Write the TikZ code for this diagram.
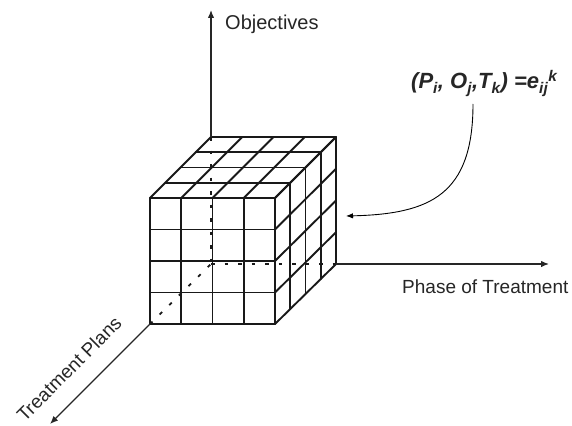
\documentclass[tikz,border=0pt]{standalone}
\usepackage{fontspec}
\setmainfont{Liberation Sans}
\usetikzlibrary{arrows.meta,calc}
\begin{document}
\begin{tikzpicture}[x=1pt,y=-1pt,
  cubeline/.style={line width=1.9pt,line cap=round,line join=round,black!90},
  hidden/.style={line width=1.8pt,dash pattern=on 3.5pt off 10pt,black!90},
  axis/.style={line width=1.3pt,black!85,-{Latex[length=8pt,width=6.5pt]}},
  callout/.style={line width=0.9pt,black,-{Latex[length=7pt,width=5.5pt]}},
  lbl/.style={inner sep=0pt,font=\fontsize{19}{22}\selectfont,text=black!85}]
\useasboundingbox (0,0) rectangle (572,425);
% cube corners
\coordinate (F1) at (150,324);
\coordinate (F2) at (275,324);
\coordinate (F3) at (275,198);
\coordinate (F4) at (150,198);
\coordinate (B1) at (211,264);
\coordinate (B2) at (336,264);
\coordinate (B3) at (336,137);
\coordinate (B4) at (211,137);
% hidden edges
\draw[hidden] (B4) -- (B1);
\draw[hidden] (B1) -- (B2);
\draw[hidden] (F1) -- (B1);
% front face grid
\foreach \i in {0,...,4}{
  \draw[cubeline] ($(F1)!\i/4!(F2)$) -- ($(F4)!\i/4!(F3)$);
  \draw[cubeline] ($(F4)!\i/4!(F1)$) -- ($(F3)!\i/4!(F2)$);
}
% top face grid
\foreach \i in {0,...,4}{
  \draw[cubeline] ($(F4)!\i/4!(F3)$) -- ($(B4)!\i/4!(B3)$);
  \draw[cubeline] ($(F4)!\i/4!(B4)$) -- ($(F3)!\i/4!(B3)$);
}
% side face grid
\foreach \i in {0,...,4}{
  \draw[cubeline] ($(F3)!\i/4!(B3)$) -- ($(F2)!\i/4!(B2)$);
  \draw[cubeline] ($(F3)!\i/4!(F2)$) -- ($(B3)!\i/4!(B2)$);
}
% axes
\coordinate (ytip) at (211,10);
\coordinate (xtip) at (549,264);
\coordinate (ztip) at (50,424);
\draw[axis] (B4) -- (ytip);
\draw[axis] (B2) -- (xtip);
\draw[axis] (F1) -- (ztip);
% labels
\node[lbl,font=\fontsize{20}{24}\selectfont,anchor=base west] (obj) at (225,30) {Objectives};
\node[lbl,anchor=base west] (phase) at (402,293) {Phase of Treatment};
\node[lbl,rotate=45] (plans) at (69,369) {Treatment Plans};
\node[lbl,font=\fontsize{22}{26}\bfseries\itshape\selectfont,anchor=base west] (eq) at (411,89)
  {(P\textsubscript{i}, O\textsubscript{j},T\textsubscript{k}) =e\textsubscript{ij}\textsuperscript{k}};
% callout
\coordinate (cstart) at (473,104);
\coordinate (ctarget) at (346,216);
\draw[callout] (cstart) .. controls (473,195) and (430,214) .. (ctarget);
\end{tikzpicture}
\end{document}
